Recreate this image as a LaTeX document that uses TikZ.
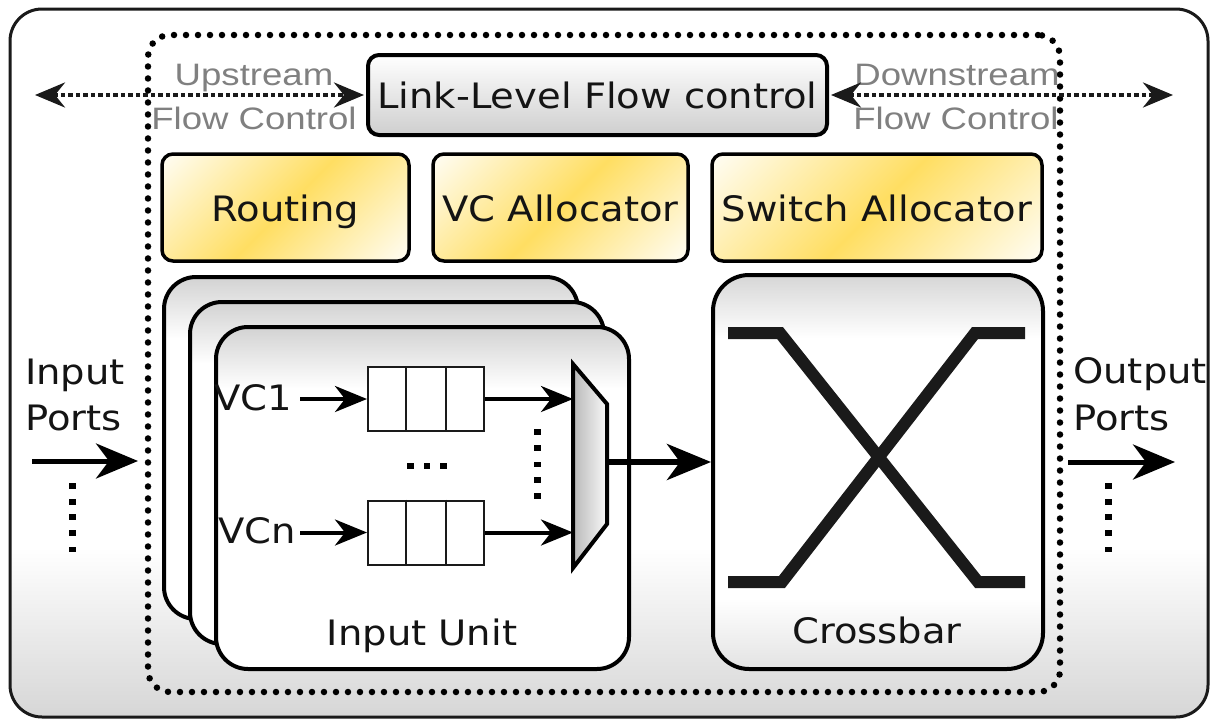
\documentclass[tikz,border=0pt]{standalone}
\usepackage{fontspec}
\setmainfont{DejaVu Sans}[FakeStretch=1.1]
\newfontfamily\grayfont{Liberation Sans}[FakeStretch=1.18]
\usetikzlibrary{arrows.meta,calc}
\definecolor{textc}{HTML}{141414}
\definecolor{grayt}{HTML}{808080}
\definecolor{ygold}{HTML}{FFDE62}
\definecolor{ypale}{HTML}{FFFDF4}
\definecolor{linec}{HTML}{1A1A1A}
\pgfdeclareverticalshading{outershade}{100bp}{color(0bp)=(gray!32); color(25bp)=(gray!32); color(37bp)=(white); color(100bp)=(white)}
\pgfdeclareverticalshading{unitshade}{100bp}{color(0bp)=(white); color(66bp)=(white); color(75bp)=(gray!35); color(100bp)=(gray!35)}
\pgfdeclareverticalshading{xbarshade}{100bp}{color(0bp)=(gray!22); color(25bp)=(gray!22); color(34bp)=(white); color(67bp)=(white); color(75bp)=(gray!32); color(100bp)=(gray!32)}
\pgfdeclareverticalshading{yshade}{100bp}{color(0bp)=(ypale); color(15bp)=(ypale); color(50bp)=(ygold); color(85bp)=(ypale); color(100bp)=(ypale)}
\tikzset{
  txt/.style={text=textc, font=\fontsize{35}{42}\selectfont, inner sep=0pt},
  gtxt/.style={text=grayt, font=\grayfont\fontsize{31}{37}\selectfont, inner sep=0pt},
  outerbox/.style={draw=linec, line width=3pt, rounded corners=32pt, shading=outershade, inner sep=0pt},
  framebox/.style={draw=black, line width=6.5pt, dash pattern=on 0pt off 12pt, line cap=round, rounded corners=22pt, inner sep=0pt},
  linkbox/.style={draw=black, line width=4pt, rounded corners=11pt, top color=white, bottom color=gray!38, inner sep=0pt, text=textc, font=\fontsize{35}{42}\selectfont, text height=27pt, text depth=0pt},
  ybox/.style={draw=black, line width=3.5pt, rounded corners=11pt, shading=yshade, shading angle=45, inner sep=0pt, text=textc, font=\fontsize{35}{42}\selectfont, text height=27pt, text depth=0pt},
  unitbox/.style={draw=black, line width=4pt, rounded corners=32pt, shading=unitshade, inner sep=0pt},
  xbarbox/.style={draw=black, line width=4pt, rounded corners=36pt, shading=xbarshade, inner sep=0pt},
  qbox/.style={draw=linec, line width=2pt, fill=white, inner sep=0pt, minimum width=116pt, minimum height=64pt},
  qline/.style={draw=linec, line width=2pt},
  vcarrow/.style={draw=black, line width=4pt, -{Stealth[length=32pt,width=26pt,inset=10pt]}},
  bigarrow/.style={draw=black, line width=6pt, -{Stealth[length=44pt,width=36pt,inset=13pt]}},
  portarrow/.style={draw=black, line width=5pt, -{Stealth[length=42pt,width=35pt,inset=13pt]}},
  dotarrow/.style={draw=linec, line width=4pt, dash pattern=on 4.5pt off 3pt,
     {Stealth[length=30pt,width=25pt,inset=10pt]}-{Stealth[length=30pt,width=25pt,inset=10pt]}},
  xline/.style={draw=linec, line width=12pt},
  sqdot/.style={fill=black}
}
\begin{document}
\begin{tikzpicture}[x=1pt,y=-1pt]
\useasboundingbox (0,0) rectangle (1210,720);
% outer router box
\node[outerbox, minimum width=1198pt, minimum height=708pt] (outer) at (609,363) {};
% dotted frame
\node[framebox, minimum width=912pt, minimum height=657pt] (frame) at (604,363.5) {};
% link-level flow control
\node[linkbox, minimum width=459pt, minimum height=80pt] (link) at (597.5,95) {Link-Level Flow control};
% allocators
\node[ybox, minimum width=247pt, minimum height=107pt] (routing) at (285.5,207.5) {Routing};
\node[ybox, minimum width=255pt, minimum height=107pt] (vcalloc) at (560.5,207.5) {VC Allocator};
\node[ybox, minimum width=330pt, minimum height=107pt] (swalloc) at (877,207.5) {Switch Allocator};
% input unit stack
\node[unitbox, minimum width=414pt, minimum height=342pt] (unitA) at (371,448) {};
\node[unitbox, minimum width=414pt, minimum height=342pt] (unitB) at (397,473) {};
\node[unitbox, minimum width=413pt, minimum height=342pt] (unitC) at (422.5,498) {};
\node[txt, anchor=base] (unitlbl) at (422,645) {Input Unit};
% crossbar
\node[xbarbox, minimum width=330pt, minimum height=394pt] (xbar) at (878,472) {};
\node[txt, anchor=base] (xbarlbl) at (877,643) {Crossbar};
\draw[xline] (728,333) -- (780,333) -- (978,582) -- (1025,582);
\draw[xline] (728,582) -- (782,582) -- (975,333) -- (1025,333);
% queues
\node[qbox] (q1) at (426,399) {};
\node[qbox] (qn) at (426,532.5) {};
\foreach \q in {q1,qn}{
  \draw[qline] ($(\q.north west)!1/3!(\q.north east)$) -- ($(\q.south west)!1/3!(\q.south east)$);
  \draw[qline] ($(\q.north west)!2/3!(\q.north east)$) -- ($(\q.south west)!2/3!(\q.south east)$);
}
\node[txt, anchor=base east] (vc1) at (292,410) {VC1};
\node[txt, anchor=base east] (vcn) at (296,543) {VCn};
\draw[vcarrow] ($(vc1.east |- q1.west)+(8,0)$) -- (q1.west);
\draw[vcarrow] ($(vcn.east |- qn.west)+(4,0)$) -- (qn.west);
% multiplexer
\draw[draw=black, line width=4pt, line join=miter, left color=gray!55, right color=gray!5]
  (573,364) -- (607,404) -- (607,524) -- (573,568) -- cycle;
\coordinate (m1) at (573,399);
\coordinate (mn) at (573,532.5);
\coordinate (mout) at (606,462);
\draw[vcarrow] (q1.east) -- (m1);
\draw[vcarrow] (qn.east) -- (mn);
\draw[bigarrow] (mout) -- (xbar.west |- mout);
% ellipsis dots
\foreach \xx in {407,423.5,440} \fill[sqdot] (\xx,463) rectangle ++(6.5,6);
\foreach \yy in {429,445,461.5,477,493} \fill[sqdot] (534,\yy) rectangle ++(6.5,5.5);
% ports
\node[txt, anchor=base west] (inlbl1) at (25,384) {Input};
\node[txt, anchor=base west] (inlbl2) at (25,430) {Ports};
\node[txt, anchor=base west] (outlbl1) at (1073,383) {Output};
\node[txt, anchor=base west] (outlbl2) at (1073,430) {Ports};
\coordinate (inS) at (32,461);
\coordinate (inE) at (138,461);
\coordinate (outS) at (1068,462);
\coordinate (outE) at (1175,462);
\draw[portarrow] (inS) -- (inE);
\draw[portarrow] (outS) -- (outE);
\foreach \yy in {483,499,514,530,546.5} {
  \fill[sqdot] (69,\yy) rectangle ++(6.5,5.5);
  \fill[sqdot] (1105,\yy) rectangle ++(6.5,5.5);
}
% flow control
\node[gtxt, anchor=base] (uplbl1) at (254,85) {Upstream};
\node[gtxt, anchor=base] (uplbl2) at (254,129) {Flow Control};
\node[gtxt, anchor=base] (dnlbl1) at (957,85) {Downstream};
\node[gtxt, anchor=base] (dnlbl2) at (956,129) {Flow Control};
\coordinate (upL) at (35,95);
\coordinate (dnR) at (1173,95);
\draw[dotarrow] (upL) -- ([xshift=-2pt]link.west);
\draw[dotarrow] ([xshift=2pt]link.east) -- (dnR);
\end{tikzpicture}
\end{document}
